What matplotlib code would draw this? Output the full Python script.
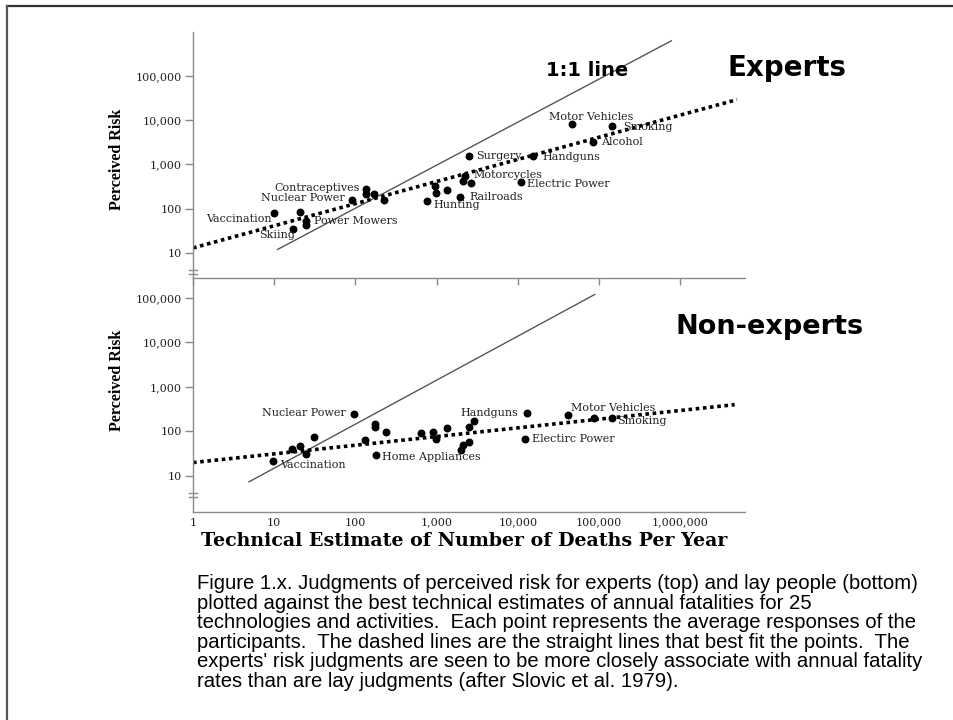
import matplotlib
matplotlib.use("Agg")
import matplotlib.pyplot as plt
from matplotlib.lines import Line2D
from matplotlib.ticker import FixedLocator, NullLocator, FuncFormatter

# experts panel (technical estimate of deaths, perceived risk)
expert_x = [10, 17, 21, 25, 25, 92, 134, 134, 171, 228, 755, 955, 985, 1330,
            1950, 2130, 2650, 2270, 2510, 15200, 11000, 46000, 146000, 85000]
expert_y = [82, 35, 85, 54, 42, 159, 284, 218, 211, 160, 152, 334, 228, 260,
            185, 417, 382, 537, 1550, 1550, 410, 8100, 7400, 3200]
expert_names = ["Vaccination", "Skiing", "", "Power Mowers", "", "Nuclear Power",
                "Contraceptives", "", "", "", "Hunting", "", "", "", "Railroads",
                "", "", "Motorcycles", "Surgery", "Handguns", "Electric Power",
                "Motor Vehicles", "Smoking", "Alcohol"]

# lay people panel
lay_x = [9.8, 16.4, 21, 25, 31, 97, 132, 176, 176, 236, 182, 646, 907, 975,
         1330, 2000, 2140, 2510, 2510, 2880, 12900, 12300, 42000, 87000, 143000]
lay_y = [22, 40, 46, 31, 76, 247, 65, 151, 123, 99, 29.6, 93, 99, 66,
         118, 38, 50, 57, 123, 174, 257, 69, 234, 196, 196]
lay_names = ["Vaccination", "", "", "", "", "Nuclear Power", "", "", "", "",
             "Home Appliances", "", "", "", "", "", "", "", "", "", "Handguns",
             "Electirc Power", "Motor Vehicles", "", "Smoking"]

# best-fit lines and 1:1 lines (end points)
expert_fit_x = [1, 5.0e6]
expert_fit_y = [13, 29000]
lay_fit_x = [1, 4.7e6]
lay_fit_y = [20, 400]
expert_one_x = [11, 7.8e5]
expert_one_y = [12, 6.2e5]
lay_one_x = [4.9, 8.9e4]
lay_one_y = [7.4, 1.2e5]

x_ticks = [1, 10, 100, 1000, 10000, 100000, 1000000]
y_ticks = [10, 100, 1000, 10000, 100000]

caption_lines = [
    "Figure 1.x. Judgments of perceived risk for experts (top) and lay people (bottom)",
    "plotted against the best technical estimates of annual fatalities for 25",
    "technologies and activities.  Each point represents the average responses of the",
    "participants.  The dashed lines are the straight lines that best fit the points.  The",
    "experts' risk judgments are seen to be more closely associate with annual fatality",
    "rates than are lay judgments (after Slovic et al. 1979).",
]

# label placement: (dx px, dy px downwards, ha)
expert_place = {
    "Vaccination": (-2, 6, "right"), "Skiing": (-16, 6, "center"),
    "Power Mowers": (8, 0, "left"), "Nuclear Power": (-8, -2, "right"),
    "Contraceptives": (-6, -1, "right"), "Hunting": (7, 4, "left"),
    "Railroads": (9, 0, "left"), "Motorcycles": (8, -1, "left"),
    "Surgery": (7, 0, "left"), "Handguns": (10, 1, "left"),
    "Electric Power": (6, 2, "left"), "Motor Vehicles": (20, -7, "center"),
    "Smoking": (11, 1, "left"), "Alcohol": (8, 0, "left"),
}
lay_place = {
    "Vaccination": (7, 4, "left"), "Nuclear Power": (-9, -1, "right"),
    "Home Appliances": (6, 2, "left"), "Handguns": (-8, 0, "right"),
    "Electirc Power": (7, 0, "left"), "Motor Vehicles": (45, -7, "center"),
    "Smoking": (6, 3, "left"),
}

W, H = 954, 720
AXC = "#8a8a8a"
fig = plt.figure(figsize=(W / 100, H / 100), dpi=100)
fig.patch.set_facecolor("white")


def fx(px):
    return px / W


def fy(py):
    return 1 - py / H


ax1 = fig.add_axes([fx(193), fy(278), fx(745) - fx(193), fy(32) - fy(278)])
ax2 = fig.add_axes([fx(193), fy(512), fx(745) - fx(193), fy(278) - fy(512)])

ax1.set_ylim(2.72, 9.8e5)
ax2.set_ylim(1.55, 2.81e5)

comma = FuncFormatter(lambda v, p: "{:,}".format(int(round(v))))


def setup(ax, show_xlabels):
    ax.set_xscale("log")
    ax.set_yscale("log")
    ax.set_xlim(1, 6.3e6)
    ax.patch.set_alpha(0)
    for s in ["top", "right"]:
        ax.spines[s].set_visible(False)
    for s in ["left", "bottom"]:
        ax.spines[s].set_color(AXC)
        ax.spines[s].set_linewidth(1.0)
    ax.xaxis.set_major_locator(FixedLocator(x_ticks))
    ax.yaxis.set_major_locator(FixedLocator(y_ticks))
    ax.xaxis.set_minor_locator(NullLocator())
    ax.yaxis.set_minor_locator(NullLocator())
    ax.xaxis.set_major_formatter(comma)
    ax.yaxis.set_major_formatter(comma)
    ax.tick_params(axis="y", direction="out", length=6, width=1, color=AXC,
                   pad=2, labelsize=8)
    if show_xlabels:
        ax.tick_params(axis="x", length=0, pad=4, labelsize=8)
    else:
        ax.tick_params(axis="x", direction="out", length=5, width=1, color=AXC,
                       labelbottom=False)
    for lab in ax.get_xticklabels() + ax.get_yticklabels():
        lab.set_fontfamily("DejaVu Serif")
        lab.set_color("#222222")


def draw_panel(ax, xs, ys, names, place, fit_x, fit_y, one_x, one_y):
    ax.plot(one_x, one_y, color="#555555", lw=1.0)
    ax.plot(fit_x, fit_y, color="black", lw=2.6, linestyle=(0, (1, 1)))
    ax.scatter(xs, ys, s=22, color="black", zorder=3, clip_on=False)
    for x, y, n in zip(xs, ys, names):
        if not n:
            continue
        dx, dy, ha = place[n]
        ax.annotate(n, (x, y), xytext=(dx * 0.72, -dy * 0.72),
                    textcoords="offset points", ha=ha, va="center",
                    fontsize=8, family="DejaVu Serif", color="#222222")


setup(ax1, False)
setup(ax2, True)
draw_panel(ax1, expert_x, expert_y, expert_names, expert_place,
           expert_fit_x, expert_fit_y, expert_one_x, expert_one_y)
draw_panel(ax2, lay_x, lay_y, lay_names, lay_place,
           lay_fit_x, lay_fit_y, lay_one_x, lay_one_y)

# axis break marks on the y axis
for py in [270, 273.5, 493, 496.5]:
    fig.add_artist(Line2D([fx(189), fx(197)], [fy(py), fy(py)], color=AXC, lw=1))

# y labels
for cy in [159, 380]:
    fig.text(fx(117), fy(cy), "Perceived Risk", rotation=90, ha="center",
             va="center", family="Liberation Serif", fontweight="bold",
             fontsize=11.5, color="black")

fig.text(fx(464), fy(541), "Technical Estimate of Number of Deaths Per Year",
         ha="center", va="center", family="DejaVu Serif", fontweight="bold",
         fontsize=13.7, color="black")

fig.text(fx(587), fy(70), "1:1 line", ha="center", va="center",
         fontweight="bold", fontsize=14, color="black")
fig.text(fx(787), fy(68), "Experts", ha="center", va="center",
         fontweight="bold", fontsize=20, color="black")
fig.text(fx(770), fy(327), "Non-experts", ha="center", va="center",
         fontweight="bold", fontsize=19.5, color="black")

# caption, one text per line to keep the tight line pitch
for i, line in enumerate(caption_lines):
    fig.text(fx(197), fy(589 + 19.6 * i), line, ha="left", va="baseline",
             family="Liberation Sans", fontsize=14.6, color="black")

# slide frame lines
fig.add_artist(Line2D([fx(7), 1], [fy(6), fy(6)], color="#333333", lw=1.6))
fig.add_artist(Line2D([fx(7), fx(7)], [fy(6), 0], color="#555555", lw=1.6))

fig.savefig("out.png", dpi=100)
